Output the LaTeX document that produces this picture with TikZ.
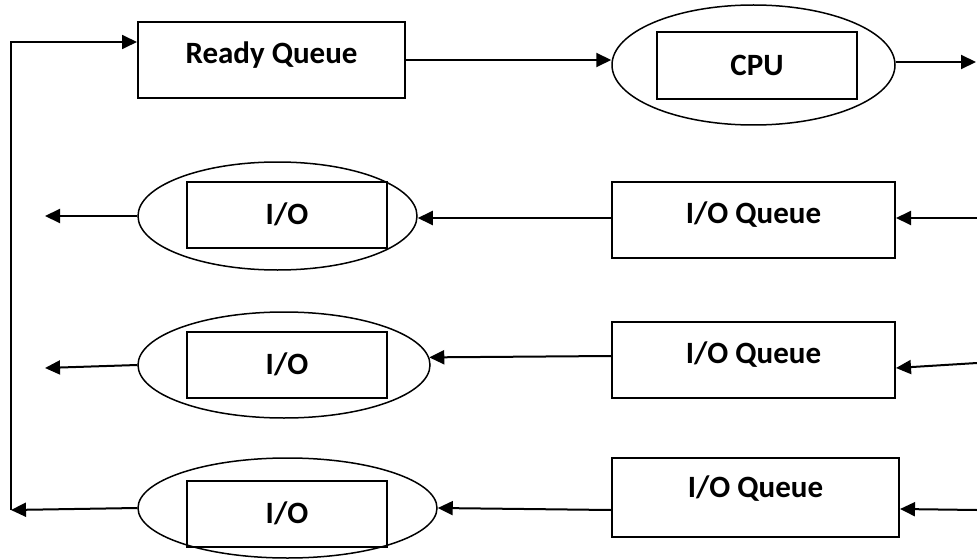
\documentclass[tikz,border=0pt]{standalone}
\usepackage{fontspec}
\setmainfont{Carlito}
\usetikzlibrary{shapes.geometric,arrows.meta}
\begin{document}
\begin{tikzpicture}[x=1pt,y=-1pt,
  lbl/.style={font=\fontsize{31}{37}\selectfont\bfseries},
  qbox/.style={draw, line width=2pt, inner sep=0pt, lbl, text height=20pt, text depth=12.4pt},
  cbox/.style={draw, line width=1.6pt, inner sep=0pt, lbl, text height=19.6pt, text depth=0pt},
  oval/.style={draw, ellipse, line width=1.5pt, inner sep=0pt},
  arr/.style={line width=2pt, -{Triangle[length=15pt,width=14pt]}}
]
\useasboundingbox (0,0) rectangle (977,559);
\fill[white] (0,0) rectangle (977,559);

% top row
\node[qbox, minimum width=267pt, minimum height=76pt] (rq) at (271.5,60) {Ready Queue};
\node[oval, minimum width=283pt, minimum height=120pt] (cpu) at (753.5,65) {};
\node[cbox, minimum width=200pt, minimum height=67pt] (cpur) at (757,65.5) {CPU};

% row 2
\node[qbox, minimum width=283pt, minimum height=76pt] (q1) at (753.5,220) {I/O Queue};
\node[oval, minimum width=279pt, minimum height=108pt] (io1) at (277.5,216) {};
\node[cbox, minimum width=200pt, minimum height=66pt] (io1r) at (287,215) {I/O};

% row 3
\node[qbox, minimum width=283pt, minimum height=76pt] (q2) at (753.5,360) {I/O Queue};
\node[oval, minimum width=292pt, minimum height=106pt] (io2) at (284,365) {};
\node[cbox, minimum width=200pt, minimum height=66pt] (io2r) at (287,365) {I/O};

% row 4
\node[qbox, text depth=19.4pt, minimum width=287pt, minimum height=79pt] (q3) at (755.5,497.5) {I/O Queue};
\node[oval, minimum width=299pt, minimum height=100pt] (io3) at (287.5,508) {};
\node[cbox, minimum width=200pt, minimum height=66pt] (io3r) at (287,514) {I/O};

% free ends
\coordinate (cpuout) at (976,62);
\coordinate (in1) at (977,218);
\coordinate (in2) at (977,363);
\coordinate (in3) at (977,510);
\coordinate (out1) at (45,216);
\coordinate (out2) at (45,368);
\coordinate (fb) at (11,510);
\coordinate (fbtop) at (11,42);

% connectors
\draw[arr] (rq.east) -- (rq.east -| cpu.west);
\draw[arr] (cpu.east |- cpuout) -- (cpuout);

\draw[arr] (in1) -- (in1 -| q1.east);
\draw[arr] ([yshift=2pt]q1.west) -- ([yshift=2pt]q1.west -| io1.east);
\draw[arr] (io1.west) -- (out1);

\draw[arr] (in2) -- ([yshift=-8pt]q2.east);
\draw[arr] ([yshift=4pt]q2.west) -- (io2.3);
\draw[arr] (io2.west) -- (out2);

\draw[arr] (in3) -- ([yshift=-11.5pt]q3.east);
\draw[arr] ([yshift=-12.5pt]q3.west) -- (io3.east);
\draw[arr] (io3.west) -- (fb);
\draw[arr, line width=1.8pt] (fb) -- (fbtop) -- (fbtop -| rq.west);
\end{tikzpicture}
\end{document}
